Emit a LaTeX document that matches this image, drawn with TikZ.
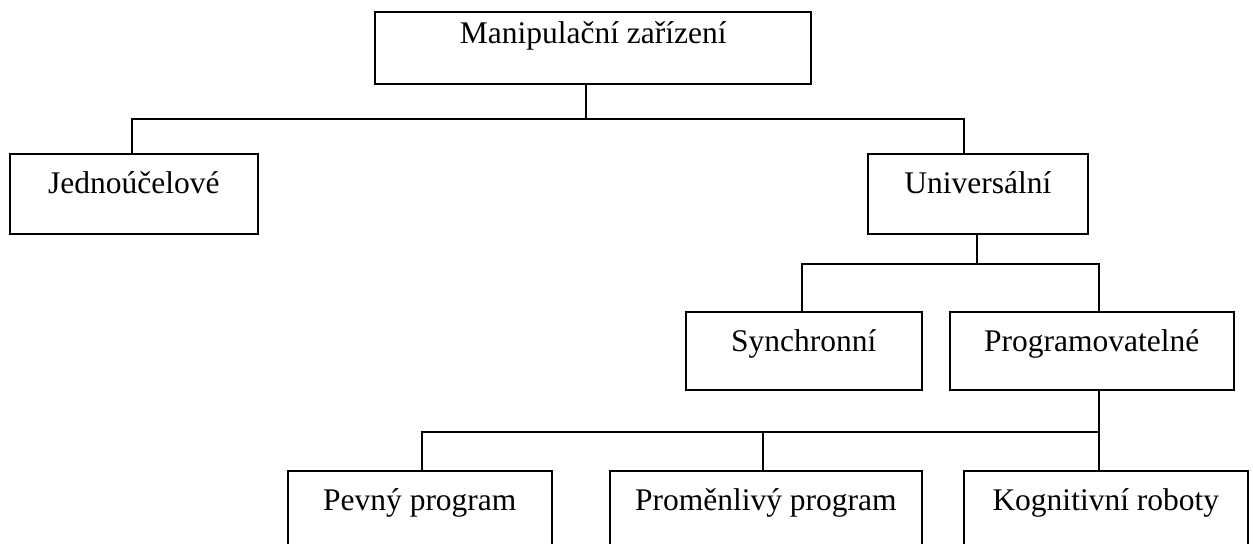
\documentclass[tikz,border=0pt]{standalone}
\usepackage{fontspec}
\setmainfont{Liberation Serif}
\usepackage{tikz}
\usetikzlibrary{calc}
\tikzset{
  box/.style={draw, rectangle, line width=0.8pt, anchor=north west, inner sep=0pt,
    text height=20pt, text depth=20pt, font=\fontsize{15.75}{18}\selectfont},
  link/.style={line width=0.75pt}
}

\begin{document}
\begin{tikzpicture}[x=0.5pt,y=-0.5pt]
\useasboundingbox (0,0) rectangle (1253,544);
\clip (0,0) rectangle (1253,544);
  \node[box, line width=1.2pt, minimum width=218pt, text height=15.5pt, text depth=20.5pt] (man) at (374,11) {Manipulační zařízení};
  \node[box, minimum width=124pt] (jedn) at (9,153) {Jednoúčelové};
  \node[box, minimum width=110pt] (univ) at (867,153) {Universální};
  \node[box, minimum width=118pt, text depth=19pt] (sync) at (685,311) {Synchronní};
  \node[box, minimum width=142pt, text depth=19pt] (prog) at (949,311) {Programovatelné};
  \node[box, minimum width=132pt] (pevny) at (287,470) {Pevný program};
  \node[box, minimum width=156pt] (prom) at (609,470) {Proměnlivý program};
  \node[box, minimum width=142pt] (kogn) at (963,470) {Kognitivní roboty};
  % branch points
  \coordinate (b1) at (586,119);
  \coordinate (b2) at (977,264);
  \coordinate (b3) at (1099,432);
  \coordinate (m3) at (763,432);
  \draw[link] (man.south -| b1) -- (b1);
  \draw[link] ($(jedn.north)+(-2,0)$) |- (b1) -| ($(univ.north)+(-14,0)$);
  \draw[link] (univ.south -| b2) -- (b2);
  \draw[link] ($(sync.north)+(-2,0)$) |- (b2) -| ($(prog.north)+(7,0)$);
  \draw[link] (prog.south -| b3) -- (b3);
  \draw[link] ($(pevny.north)+(2,0)$) |- (b3) -- (kogn.north -| b3);
  \draw[link] (m3) -- (prom.north -| m3);
\end{tikzpicture}
\end{document}
